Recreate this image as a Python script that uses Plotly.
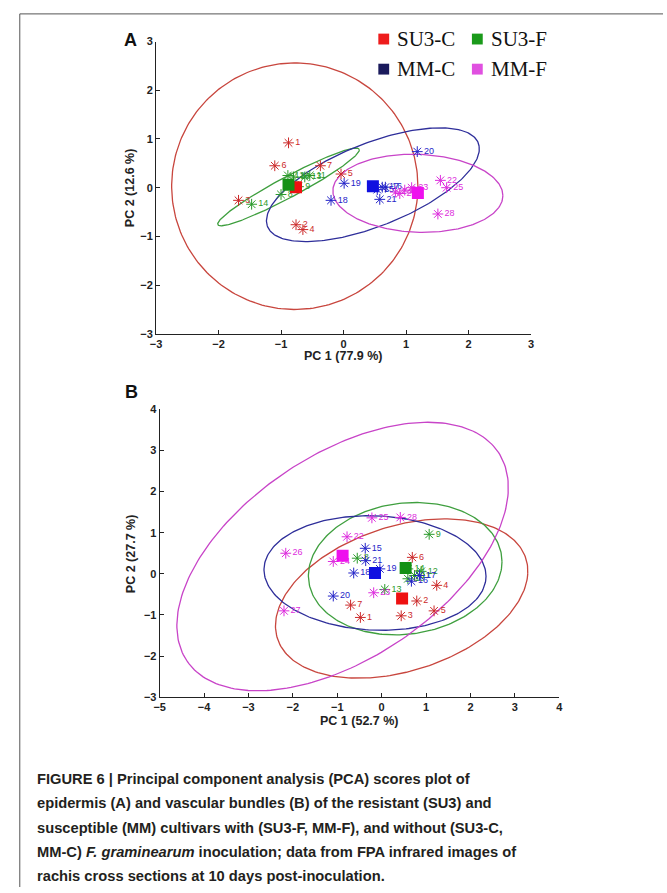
import numpy as np
import plotly.graph_objects as go

W, H = 667, 893

# ---------------- data ----------------
groups = ["SU3-C", "SU3-F", "MM-C", "MM-F"]
pt_colors = ["#cc2a2a", "#2a9a2a", "#2424c8", "#dd2cdd"]
sq_colors = ["#ee1111", "#159015", "#1010e0", "#ee10ee"]
ell_colors = ["#c8463e", "#3f9f3f", "#2e2e9a", "#c844c8"]
legend_sq_colors = ["#ee1c1c", "#1a9a1a", "#1a1a5c", "#e050e0"]

labels = [[str(i) for i in range(1, 8)], [str(i) for i in range(8, 15)],
          [str(i) for i in range(15, 22)], [str(i) for i in range(22, 29)]]

# Panel A (epidermis)
A_x = [[-0.88, -0.76, -1.68, -0.65, -0.04, -1.10, -0.37],
       [-1.00, -0.72, -0.80, -0.54, -0.89, -0.62, -1.47],
       [0.54, 0.67, 0.62, -0.20, 0.01, 1.18, 0.58],
       [1.55, 1.09, 0.83, 1.65, 0.90, 0.98, 1.51]]
A_y = [[0.92, -0.76, -0.26, -0.86, 0.28, 0.45, 0.45],
       [-0.14, 0.02, 0.22, 0.25, 0.25, 0.22, -0.34],
       [-0.04, 0.01, 0.01, -0.26, 0.09, 0.74, -0.24],
       [0.15, 0.00, -0.09, 0.00, -0.12, -0.05, -0.54]]
A_mean_x = [-0.76, -0.88, 0.47, 1.19]
A_mean_y = [0.01, 0.06, 0.03, -0.11]
# ellipse: centre, first and second semi-axis vectors (data units)
A_ell_c = [(-0.78, 0.03), (-0.88, 0.015), (0.47, 0.06), (1.19, -0.115)]
A_ell_u = [(1.97, 0.0), (1.13, 0.775), (1.70, 0.79), (1.36, -0.05)]
A_ell_v = [(0.0, 2.53), (-0.078, 0.187), (-0.10, 0.86), (0.0, 0.80)]

# Panel B (vascular bundles)
B_x = [[-0.48, 0.79, 0.44, 1.24, 1.18, 0.69, -0.70],
       [-0.55, 1.07, 0.59, 0.74, 0.89, 0.07, 0.59],
       [-0.37, 0.67, 0.85, -0.63, -0.04, -1.09, -0.36],
       [-0.78, -0.18, -1.09, -0.22, -2.16, -2.20, 0.42]]
B_y = [[-1.06, -0.66, -1.02, -0.28, -0.90, 0.40, -0.76],
       [0.38, 0.96, -0.12, -0.04, 0.06, -0.38, 0.12],
       [0.62, -0.18, -0.04, 0.02, 0.12, -0.54, 0.32],
       [0.90, -0.46, 0.30, 1.36, 0.50, -0.90, 1.37]]
B_mean_x = [0.46, 0.54, -0.15, -0.88]
B_mean_y = [-0.60, 0.14, 0.02, 0.44]
B_ell_c = [(0.45, -0.60), (0.53, 0.125), (-0.15, 0.02), (-0.88, 0.42)]
B_ell_u = [(2.84, 0.60), (2.18, 0.17), (2.50, -0.08), (3.51, 2.53)]
B_ell_v = [(0.10, 1.84), (0.0, 1.60), (0.0, 1.39), (-1.27, 2.06)]

A_xticks = [-3, -2, -1, 0, 1, 2, 3]
A_yticks = [-3, -2, -1, 0, 1, 2, 3]
B_xticks = [-5, -4, -3, -2, -1, 0, 1, 2, 3, 4]
B_yticks = [-3, -2, -1, 0, 1, 2, 3, 4]

caption_lines = [
    "<b>FIGURE 6 | Principal component analysis (PCA) scores plot of</b>",
    "<b>epidermis (A) and vascular bundles (B) of the resistant (SU3) and</b>",
    "<b>susceptible (MM) cultivars with (SU3-F, MM-F), and without (SU3-C,</b>",
    "<b>MM-C) <i>F. graminearum</i> inoculation; data from FPA infrared images of</b>",
    "<b>rachis cross sections at 10 days post-inoculation.</b>",
]

# ---------------- helpers ----------------
def px(x):
    return x / W

def py(y):
    return 1 - y / H

fig = go.Figure()
t = np.linspace(0, 2 * np.pi, 240)


def add_panel(xs, ys, mx, my, ec, eu, ev, xa, ya):
    for g in range(4):
        cx, cy = ec[g]
        ux, uy = eu[g]
        vx, vy = ev[g]
        fig.add_trace(go.Scatter(
            x=cx + ux * np.cos(t) + vx * np.sin(t),
            y=cy + uy * np.cos(t) + vy * np.sin(t),
            mode="lines", line=dict(color=ell_colors[g], width=1.3),
            xaxis=xa, yaxis=ya, showlegend=False, hoverinfo="skip"))
    for g in range(4):
        fig.add_trace(go.Scatter(
            x=xs[g], y=ys[g], mode="markers+text", text=labels[g],
            textposition="middle right",
            textfont=dict(family="Liberation Sans, Arial", size=9, color=pt_colors[g]),
            marker=dict(symbol="asterisk-open", size=9, color=pt_colors[g],
                        line=dict(width=1, color=pt_colors[g])),
            xaxis=xa, yaxis=ya, showlegend=False))
    for g in range(4):
        fig.add_trace(go.Scatter(
            x=[mx[g]], y=[my[g]], mode="markers",
            marker=dict(symbol="square", size=12, color=sq_colors[g],
                        line=dict(width=0)),
            xaxis=xa, yaxis=ya, showlegend=False))


add_panel(A_x, A_y, A_mean_x, A_mean_y, A_ell_c, A_ell_u, A_ell_v, "x", "y")
add_panel(B_x, B_y, B_mean_x, B_mean_y, B_ell_c, B_ell_u, B_ell_v, "x2", "y2")

axis_common = dict(showline=True, linecolor="#222", linewidth=1, ticks="inside",
                   ticklen=4, tickcolor="#222", showgrid=False, zeroline=False,
                   tickfont=dict(family="Liberation Sans, Arial", size=11,
                                 color="#222", weight="bold"),
                   mirror=False)

# panel A pixel box: x 152.3..533, y 36..332.3
# panel B pixel box: x 156..561.7, y 408.7..700.7
fig.update_layout(
    width=W, height=H, margin=dict(l=0, r=0, t=0, b=0),
    paper_bgcolor="white", plot_bgcolor="white", showlegend=False,
    xaxis=dict(domain=[px(152.3), px(533)], range=[-3, 3], tickvals=A_xticks,
               anchor="y", **axis_common),
    yaxis=dict(domain=[py(332.3), py(36)], range=[-3, 3], tickvals=A_yticks,
               anchor="x", **axis_common),
    xaxis2=dict(domain=[px(156), px(561.7)], range=[-5, 4], tickvals=B_xticks,
                anchor="y2", **axis_common),
    yaxis2=dict(domain=[py(700.7), py(408.7)], range=[-3, 4], tickvals=B_yticks,
                anchor="x2", **axis_common),
)

ann = []


def centered(x, y, text, font, angle=0):
    return dict(x=px(x), y=py(y), text=text, showarrow=False, xref="paper",
                yref="paper", xanchor="center", yanchor="middle", font=font,
                textangle=angle)


title_font = dict(family="Liberation Sans, Arial", size=12.5, color="#222", weight="bold")
ann.append(centered(342.7, 355, "PC 1 (77.9 %)", title_font))
ann.append(centered(125.5, 184, "PC 2 (12.6 %)", title_font, -90))
ann.append(centered(358.9, 725, "PC 1 (52.7 %)", title_font))
ann.append(centered(126.5, 555, "PC 2 (27.7 %)", title_font, -90))

panel_font = dict(family="Liberation Sans, Arial", size=18, color="#111", weight="bold")
ann.append(centered(126, 34, "A", panel_font))
ann.append(centered(127, 391.5, "B", panel_font))

# legend (panel A, top right)
leg_font = dict(family="Liberation Serif, Times New Roman", size=21, color="#111")
leg_pos = [(378, 33.5), (473, 33.5), (378, 64), (473, 64)]
shapes = []
for g in range(4):
    lx, ly = leg_pos[g]
    shapes.append(dict(type="rect", xref="paper", yref="paper",
                       x0=px(lx), x1=px(lx + 11), y0=py(ly + 5.5), y1=py(ly - 5.5),
                       fillcolor=legend_sq_colors[g], line=dict(width=0)))
    ann.append(dict(x=px(lx + 17), y=py(ly), text=groups[g], showarrow=False,
                    xref="paper", yref="paper", xanchor="left", yanchor="middle",
                    font=leg_font))

# caption
cap_font = dict(family="Liberation Sans, Arial", size=14.7, color="#231f20")
cap_y = [783.5, 808.2, 832.8, 857.4, 882]
for line, yy in zip(caption_lines, cap_y):
    ann.append(dict(x=px(29), y=py(yy), text=line, showarrow=False, xref="paper",
                    yref="paper", xanchor="left", yanchor="middle", font=cap_font))

# frame lines (top and left)
shapes.append(dict(type="line", xref="paper", yref="paper", x0=px(14), x1=1,
                   y0=py(8), y1=py(8), line=dict(color="#555", width=1)))
shapes.append(dict(type="line", xref="paper", yref="paper", x0=px(14), x1=px(14),
                   y0=py(8), y1=0, line=dict(color="#555", width=1)))

fig.update_layout(annotations=ann, shapes=shapes)
fig.write_html("out.html", config={"displayModeBar": False},
               post_script="document.body.style.margin='0';"
                           "document.body.style.overflow='hidden';")
